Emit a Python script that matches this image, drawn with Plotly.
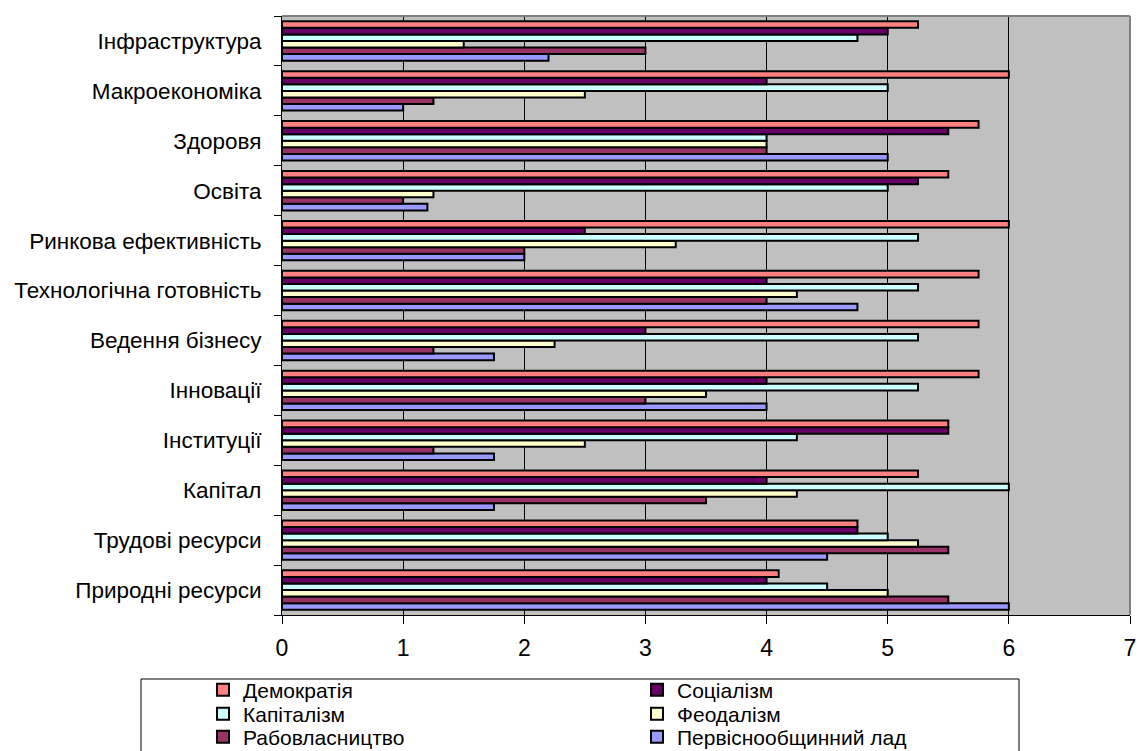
import plotly.graph_objects as go

categories = ["Природні ресурси", "Трудові ресурси", "Капітал", "Інституції", "Інновації",
              "Ведення бізнесу", "Технологічна готовність", "Ринкова ефективність", "Освіта",
              "Здоровя", "Макроекономіка", "Інфраструктура"]

democracy    = [4.1, 4.75, 5.25, 5.5, 5.75, 5.75, 5.75, 6.0, 5.5, 5.75, 6.0, 5.25]
socialism    = [4.0, 4.75, 4.0, 5.5, 4.0, 3.0, 4.0, 2.5, 5.25, 5.5, 4.0, 5.0]
capitalism   = [4.5, 5.0, 6.0, 4.25, 5.25, 5.25, 5.25, 5.25, 5.0, 4.0, 5.0, 4.75]
feudalism    = [5.0, 5.25, 4.25, 2.5, 3.5, 2.25, 4.25, 3.25, 1.25, 4.0, 2.5, 1.5]
slavery      = [5.5, 5.5, 3.5, 1.25, 3.0, 1.25, 4.0, 2.0, 1.0, 4.0, 1.25, 3.0]
primitive    = [6.0, 4.5, 1.75, 1.75, 4.0, 1.75, 4.75, 2.0, 1.2, 5.0, 1.0, 2.2]

series_names = ["Демократія", "Соціалізм", "Капіталізм", "Феодалізм", "Рабовласництво",
                "Первіснообщинний лад"]
series_values = [democracy, socialism, capitalism, feudalism, slavery, primitive]
colors = ["#FF8080", "#660066", "#CCFFFF", "#FFFFCC", "#993366", "#9999FF"]
legend_ids = ["legend", "legend", "legend2", "legend2", "legend3", "legend3"]

W, H = 1139, 751
PL, PR, PT, PB = 282, 1130, 16, 615          # plot area in window pixels
L, R, T, B = PL, W - PR, PT, H - PB
pw, ph = PR - PL, PB - PT

def px(x):
    return (x - PL) / pw

def py(y):
    return (PB - y) / ph

fig = go.Figure()
# add in reverse so Демократія is on top inside each group
for name, vals, col, lg in reversed(list(zip(series_names, series_values, colors, legend_ids))):
    fig.add_trace(go.Bar(
        y=categories, x=vals, name=name, orientation="h", legend=lg,
        marker=dict(color=col, line=dict(color="black", width=2)),
    ))

def legend_row(ycenter):
    return dict(
        orientation="h", traceorder="reversed",
        x=px(203), y=py(ycenter), xanchor="left", yanchor="middle",
        entrywidth=389, entrywidthmode="pixels",
        font=dict(size=21, family="Liberation Sans, Arial, sans-serif", color="black"),
        bgcolor="rgba(0,0,0,0)", borderwidth=0, itemwidth=30, tracegroupgap=0,
    )

fig.update_layout(
    width=W, height=H,
    margin=dict(l=L, r=R, t=T, b=B, pad=0, autoexpand=False),
    barmode="group", bargap=0.21, bargroupgap=0,
    paper_bgcolor="white", plot_bgcolor="#C0C0C0",
    font=dict(family="Liberation Sans, Arial, sans-serif", color="black"),
    showlegend=True,
    legend=legend_row(690),
    legend2=legend_row(714),
    legend3=legend_row(737),
    xaxis=dict(
        range=[0, 7], dtick=1, tick0=0, showgrid=True, gridcolor="black", gridwidth=1,
        zeroline=False, showline=True, linecolor="black", linewidth=1,
        ticks="outside", ticklen=8, tickcolor="black", tickfont=dict(size=23),
        ticklabelstandoff=4,
    ),
    yaxis=dict(
        type="category", tickson="boundaries", showgrid=False, zeroline=False,
        showline=True, linecolor="black", linewidth=1,
        ticks="outside", ticklen=7, tickcolor="black", tickfont=dict(size=22.5),
        ticklabelstandoff=15,
    ),
    shapes=[
        dict(type="line", xref="paper", yref="paper", x0=0, x1=1, y0=1, y1=1,
             line=dict(color="#808080", width=2)),
        dict(type="line", xref="paper", yref="paper", x0=1, x1=1, y0=0, y1=1,
             line=dict(color="#808080", width=2)),
        dict(type="rect", xref="paper", yref="paper", x0=px(141), x1=px(1019),
             y0=py(770), y1=py(679), line=dict(color="black", width=1),
             fillcolor="rgba(0,0,0,0)"),
    ],
)

fig.write_html("out.html", config={"displayModeBar": False},
               post_script="document.body.style.margin='0';")
